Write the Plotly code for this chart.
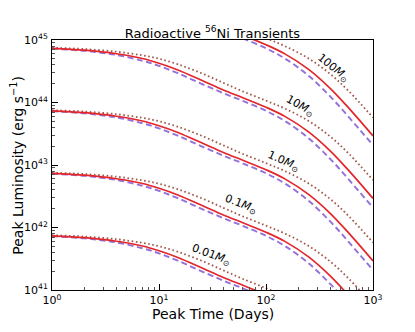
import plotly.graph_objects as go

# peak time grid (days)
t_days = [1, 2, 4, 7, 10, 15, 25, 40, 60, 100, 150, 250, 400, 600, 1000]

# solid red curves
red_001 = [7.37e41, 6.88e41, 6.03e41, 5.05e41, 4.24e41, 3.32e41, 2.27e41, 1.59e41, 1.20e41, 8.40e40, 6.00e40, 3.39e40, 1.67e40, 7.97e39, 2.92e39]
red_01 = [7.37e42, 6.88e42, 6.03e42, 5.05e42, 4.24e42, 3.32e42, 2.27e42, 1.59e42, 1.20e42, 8.40e41, 6.00e41, 3.39e41, 1.67e41, 7.97e40, 2.92e40]
red_1 = [7.37e43, 6.88e43, 6.03e43, 5.05e43, 4.24e43, 3.32e43, 2.27e43, 1.59e43, 1.20e43, 8.40e42, 6.00e42, 3.39e42, 1.67e42, 7.97e41, 2.92e41]
red_10 = [7.37e44, 6.88e44, 6.03e44, 5.05e44, 4.24e44, 3.32e44, 2.27e44, 1.59e44, 1.20e44, 8.40e43, 6.00e43, 3.39e43, 1.67e43, 7.97e42, 2.92e42]
red_100 = [7.37e45, 6.88e45, 6.03e45, 5.05e45, 4.24e45, 3.32e45, 2.27e45, 1.59e45, 1.20e45, 8.40e44, 6.00e44, 3.39e44, 1.67e44, 7.97e43, 2.92e43]

# dashed purple curves
dash_001 = [7.27e41, 6.71e41, 5.76e41, 4.66e41, 3.85e41, 2.94e41, 1.99e41, 1.41e41, 1.07e41, 7.36e40, 5.07e40, 2.68e40, 1.24e40, 5.73e39, 2.08e39]
dash_01 = [7.27e42, 6.71e42, 5.76e42, 4.66e42, 3.85e42, 2.94e42, 1.99e42, 1.41e42, 1.07e42, 7.36e41, 5.07e41, 2.68e41, 1.24e41, 5.73e40, 2.08e40]
dash_1 = [7.27e43, 6.71e43, 5.76e43, 4.66e43, 3.85e43, 2.94e43, 1.99e43, 1.41e43, 1.07e43, 7.36e42, 5.07e42, 2.68e42, 1.24e42, 5.73e41, 2.08e41]
dash_10 = [7.27e44, 6.71e44, 5.76e44, 4.66e44, 3.85e44, 2.94e44, 1.99e44, 1.41e44, 1.07e44, 7.36e43, 5.07e43, 2.68e43, 1.24e43, 5.73e42, 2.08e42]
dash_100 = [7.27e45, 6.71e45, 5.76e45, 4.66e45, 3.85e45, 2.94e45, 1.99e45, 1.41e45, 1.07e45, 7.36e44, 5.07e44, 2.68e44, 1.24e44, 5.73e43, 2.08e43]

# dotted brown curves
dot_001 = [7.52e41, 7.16e41, 6.50e41, 5.67e41, 5.01e41, 4.09e41, 2.94e41, 2.06e41, 1.52e41, 1.07e41, 8.00e40, 5.07e40, 2.84e40, 1.49e40, 5.73e39]
dot_01 = [7.52e42, 7.16e42, 6.50e42, 5.67e42, 5.01e42, 4.09e42, 2.94e42, 2.06e42, 1.52e42, 1.07e42, 8.00e41, 5.07e41, 2.84e41, 1.49e41, 5.73e40]
dot_1 = [7.52e43, 7.16e43, 6.50e43, 5.67e43, 5.01e43, 4.09e43, 2.94e43, 2.06e43, 1.52e43, 1.07e43, 8.00e42, 5.07e42, 2.84e42, 1.49e42, 5.73e41]
dot_10 = [7.52e44, 7.16e44, 6.50e44, 5.67e44, 5.01e44, 4.09e44, 2.94e44, 2.06e44, 1.52e44, 1.07e44, 8.00e43, 5.07e43, 2.84e43, 1.49e43, 5.73e42]
dot_100 = [7.52e45, 7.16e45, 6.50e45, 5.67e45, 5.01e45, 4.09e45, 2.94e45, 2.06e45, 1.52e45, 1.07e45, 8.00e44, 5.07e44, 2.84e44, 1.49e44, 5.73e43]

mass_labels = ["0.01", "0.1", "1.0", "10", "100"]

x_tickvals = [1, 10, 100, 1000]
x_ticktext = ["10<sup>0</sup>", "10<sup>1</sup>", "10<sup>2</sup>", "10<sup>3</sup>"]
y_tickvals = [1e41, 1e42, 1e43, 1e44, 1e45]
y_ticktext = ["10<sup>41</sup>", "10<sup>42</sup>", "10<sup>43</sup>", "10<sup>44</sup>", "10<sup>45</sup>"]

FONT = "DejaVu Sans, Arial, sans-serif"

fig = go.Figure()

dotted = [dot_001, dot_01, dot_1, dot_10, dot_100]
dashed = [dash_001, dash_01, dash_1, dash_10, dash_100]
solid = [red_001, red_01, red_1, red_10, red_100]

for ys in dotted:
    fig.add_trace(go.Scatter(x=t_days, y=ys, mode="lines", line_shape="spline",
                             line=dict(color="#a0584a", width=1.8, dash="1.6px,2.6px"),
                             showlegend=False, hoverinfo="skip"))
for ys in dashed:
    fig.add_trace(go.Scatter(x=t_days, y=ys, mode="lines", line_shape="spline",
                             line=dict(color="#9370db", width=1.9, dash="6px,3.5px"),
                             showlegend=False, hoverinfo="skip"))
for ys in solid:
    fig.add_trace(go.Scatter(x=t_days, y=ys, mode="lines", line_shape="spline",
                             line=dict(color="#e3262a", width=1.7),
                             showlegend=False, hoverinfo="skip"))

# rotated mass labels (log10 coordinates, angle in degrees)
label_pos = [(1.49, 41.56, 20), (1.76, 42.37, 21), (2.16, 43.07, 24), (2.32, 43.94, 29), (2.63, 44.56, 39)]
for m, (lx, ly, ang) in zip(mass_labels, label_pos):
    fig.add_annotation(x=lx, y=ly, xref="x", yref="y", showarrow=False,
                       text=f"{m}<i>M</i><sub>⊙</sub>", textangle=ang,
                       font=dict(family=FONT, size=11, color="black"))

# axis titles placed by hand, like the reference
fig.add_annotation(x=0.5, y=-0.096, xref="paper", yref="paper", yanchor="middle", showarrow=False,
                   text="Peak Time (Days)", font=dict(family=FONT, size=14, color="black"))
fig.add_annotation(x=-0.11, y=0.5, xref="paper", yref="paper", xanchor="center", yanchor="middle",
                   showarrow=False, text="Peak Luminosity (erg s<sup>−1</sup>)", textangle=-90,
                   font=dict(family=FONT, size=14, color="black"))

axis_common = dict(showline=True, linecolor="black", linewidth=1, mirror=True,
                   ticks="inside", ticklen=6, tickwidth=1, tickcolor="black",
                   showgrid=False, zeroline=False, automargin=False,
                   tickfont=dict(family=FONT, size=11, color="black"),
                   minor=dict(ticks="inside", ticklen=3, tickwidth=1, tickcolor="#555", dtick="D1", showgrid=False))

fig.update_xaxes(type="log", range=[0, 3], tickvals=x_tickvals, ticktext=x_ticktext, **axis_common)
fig.update_yaxes(type="log", range=[41, 45], tickvals=y_tickvals, ticktext=y_ticktext, ticklabelstandoff=1,
                 **axis_common)

# page body adds an 8px margin, so the figure is a bit smaller than the window
fig.update_layout(
    width=399, height=316,
    margin=dict(l=44, r=34, t=32, b=34),
    paper_bgcolor="white", plot_bgcolor="white",
    title=dict(text="Radioactive <sup>56</sup>Ni Transients", x=0.5125, xanchor="center",
               y=0.92, yanchor="middle", font=dict(family=FONT, size=13, color="black")),
)

fig.write_html("out.html")
